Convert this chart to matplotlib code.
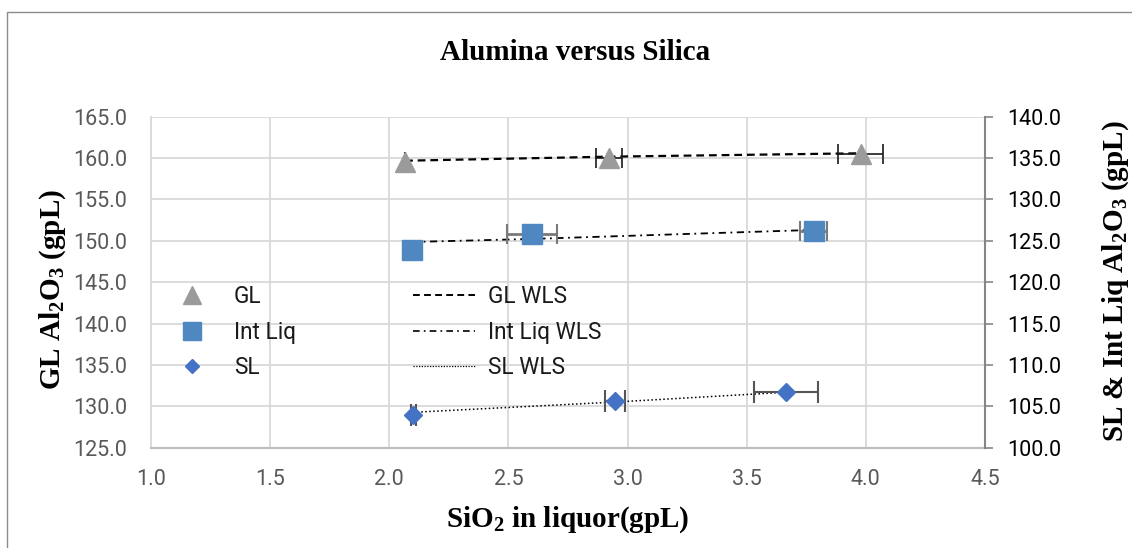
import matplotlib
matplotlib.use('Agg')
import matplotlib.pyplot as plt
from matplotlib.lines import Line2D
from matplotlib.patches import Rectangle
from matplotlib.ticker import FormatStrFormatter, MultipleLocator

# ---------------- data ----------------
gl_x = [2.066, 2.922, 3.978]
gl_y = [159.56, 160.01, 160.49]
gl_xerr = [0.0, 0.054, 0.094]
gl_wls = [159.68, 160.17, 160.58]

il_x = [2.095, 2.598, 3.781]
il_y = [123.89, 125.79, 126.19]
il_xerr = [0.0, 0.105, 0.057]
il_wls = [124.86, 125.23, 126.32]

sl_x = [2.101, 2.948, 3.665]
sl_y = [103.95, 105.64, 106.69]
sl_xerr = [0.01, 0.041, 0.134]
sl_wls = [104.28, 105.52, 106.70]

title = "Alumina versus Silica"
xlabel = r"SiO$_2$ in liquor(gpL)"
ylabel_left = r"GL Al$_2$O$_3$ (gpL)"
ylabel_right = r"SL & Int Liq Al$_2$O$_3$ (gpL)"
legend_markers = ["GL", "Int Liq", "SL"]
legend_lines = ["GL WLS", "Int Liq WLS", "SL WLS"]

# ---------------- style ----------------
plt.rcParams['font.family'] = ['Roboto', 'DejaVu Sans']
plt.rcParams['mathtext.default'] = 'regular'

W, H = 1132, 548
fig = plt.figure(figsize=(W / 100, H / 100), dpi=100)

def fx(px):
    return px / W

def fy(py):
    return 1 - py / H

ax = fig.add_axes([fx(151), fy(447.7), fx(985) - fx(151), fy(116.7) - fy(447.7)])
ax2 = ax.twinx()

GL_C = '#9b9b9b'
IL_C = '#4f87c0'
SL_C = '#4472c4'
GRID = '#d9d9d9'

# outer chart border
fig.patches.append(Rectangle((fx(7), fy(12) - 2), 2, 2, transform=fig.transFigure,
                             fill=False, edgecolor='#8c8c8c', lw=1.0))

# left axis (GL)
ax.set_xlim(1.0, 4.5)
ax.set_ylim(125, 165)
ax.xaxis.set_major_locator(MultipleLocator(0.5))
ax.yaxis.set_major_locator(MultipleLocator(5))
ax.xaxis.set_major_formatter(FormatStrFormatter('%.1f'))
ax.yaxis.set_major_formatter(FormatStrFormatter('%.1f'))
ax.grid(True, color=GRID, lw=1.3)
ax.set_axisbelow(True)
for s in ['top', 'right']:
    ax.spines[s].set_visible(False)
ax.spines['left'].set_color(GRID)
ax.spines['left'].set_linewidth(1.3)
ax.spines['bottom'].set_color('#bfbfbf')
ax.spines['bottom'].set_linewidth(1.6)
ax.tick_params(axis='y', length=0, pad=17, labelsize=15.5, labelcolor='#595959')
ax.tick_params(axis='x', length=0, pad=15, labelsize=15.5, labelcolor='#595959')

# right axis (Int Liq, SL)
ax2.set_ylim(100, 140)
ax2.yaxis.set_major_locator(MultipleLocator(5))
ax2.yaxis.set_major_formatter(FormatStrFormatter('%.1f'))
for s in ['top', 'left', 'bottom']:
    ax2.spines[s].set_visible(False)
ax2.spines['right'].set_color('#868686')
ax2.spines['right'].set_linewidth(1.5)
ax2.tick_params(axis='y', length=5.8, width=1.2, color='#868686', direction='out',
                pad=10, labelsize=15.5, labelcolor='#000000')

# GL series
ax.plot(gl_x, gl_wls, ls=(0, (3.5, 2.2)), color='black', lw=1.6, zorder=2)
ax.errorbar(gl_x, gl_y, xerr=gl_xerr, fmt='none', ecolor='#1a1a1a', elinewidth=1.2,
            capsize=7, capthick=1.2, zorder=3)
ax.plot(gl_x, gl_y, ls='none', marker='^', markersize=14.4, color=GL_C, zorder=4)

# Int Liq series
ax2.plot(il_x, il_wls, ls=(0, (4, 2.5, 1, 2.5)), color='black', lw=1.3, zorder=2)
ax2.errorbar(il_x, il_y, xerr=il_xerr, fmt='none', ecolor='#7a7a7a', elinewidth=2.0,
             capsize=7.5, capthick=1.5, zorder=3)
ax2.plot(il_x, il_y, ls='none', marker='s', markersize=14.4, color=IL_C, zorder=4)

# SL series
ax2.plot(sl_x, sl_wls, ls=(0, (1, 1.6)), color='black', lw=1.1, zorder=2)
ax2.errorbar(sl_x, sl_y, xerr=sl_xerr, fmt='none', ecolor='#555555', elinewidth=1.5,
             capsize=8, capthick=1.5, zorder=3)
ax2.plot(sl_x, sl_y, ls='none', marker='D', markersize=8.7, color=SL_C, zorder=4)

# legends
mk_handles = [
    Line2D([], [], ls='none', marker='^', markersize=12.5, color=GL_C),
    Line2D([], [], ls='none', marker='s', markersize=12.5, color=IL_C),
    Line2D([], [], ls='none', marker='D', markersize=7.2, color=SL_C),
]
ln_handles = [
    Line2D([], [], ls=(0, (3.5, 2.2)), color='black', lw=1.4),
    Line2D([], [], ls=(0, (4, 2.5, 1, 2.5)), color='black', lw=1.2),
    Line2D([], [], ls=(0, (1, 1.2)), color='black', lw=0.9),
]
leg_fs = 16.3
fs_px = leg_fs * 100 / 72
common = dict(loc='upper left', bbox_transform=fig.transFigure, frameon=False,
              borderpad=0, borderaxespad=0, fontsize=leg_fs, labelspacing=0.56,
              labelcolor='#1a1a1a')
leg1 = ax2.legend(mk_handles, legend_markers, bbox_to_anchor=(fx(170.5), fy(285)),
                  handlelength=43 / fs_px, handletextpad=(234 - 213.5) / fs_px, **common)
ax2.add_artist(leg1)
leg2 = ax2.legend(ln_handles, legend_lines, bbox_to_anchor=(fx(413), fy(285)),
                  handlelength=62 / fs_px, handletextpad=13 / fs_px, **common)

# texts
serif = dict(family='Liberation Serif', weight='bold', color='black')
fig.text(fx(575.4), fy(53), title, ha='center', va='center', fontsize=21, **serif)
fig.text(fx(567.5), fy(527), xlabel, ha='center', va='baseline', fontsize=21, **serif)
fig.text(fx(53), fy(289), ylabel_left, ha='center', va='center', rotation=90,
         fontsize=21, **serif)
fig.text(fx(1116), fy(281), ylabel_right, ha='center', va='center', rotation=90,
         fontsize=21, **serif)

fig.savefig('out.png', dpi=100)
